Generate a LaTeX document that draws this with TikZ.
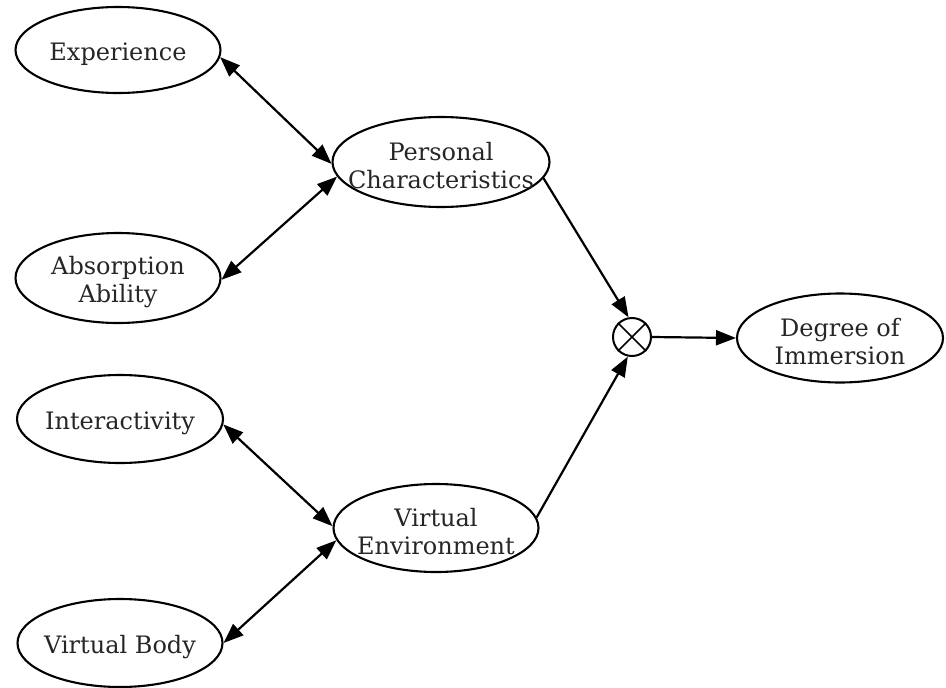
\documentclass[tikz,border=0pt]{standalone}
\usepackage{fontspec}
\setmainfont{DejaVu Serif}
\usetikzlibrary{shapes.geometric,arrows.meta}
\begin{document}
\begin{tikzpicture}[x=1pt,y=-1pt,
  oval/.style={draw, line width=2.1pt, ellipse, inner sep=0pt},
  txt/.style={align=center, font=\fontsize{24}{28}\selectfont, text=black!85, inner sep=0pt, yshift=-4pt},
  link/.style={line width=2.2pt, -{Triangle[length=20pt,width=15pt]}},
  dlink/.style={line width=2.2pt, {Triangle[length=20pt,width=15pt]}-{Triangle[length=20pt,width=15pt]}}]
\useasboundingbox (0,0) rectangle (946,688);
\node[oval, minimum width=205pt, minimum height=86pt, label={[txt]center:Experience}] (exp) at (118,50) {};
\node[oval, minimum width=205pt, minimum height=90pt, label={[txt]center:Absorption\\Ability}] (abs) at (118,278) {};
\node[oval, minimum width=206pt, minimum height=88pt, label={[txt]center:Interactivity}] (int) at (120,419) {};
\node[oval, minimum width=205pt, minimum height=88pt, label={[txt]center:Virtual Body}] (vb) at (120,643) {};
\node[oval, minimum width=217pt, minimum height=90pt, label={[txt]center:Personal\\Characteristics}] (pc) at (441,162) {};
\node[oval, minimum width=205pt, minimum height=88pt, label={[txt]center:Virtual\\Environment}] (ve) at (436,528) {};
\node[oval, minimum width=206pt, minimum height=89pt, label={[txt]center:Degree of\\Immersion}] (deg) at (840,338) {};
\node[draw, circle, line width=2pt, minimum size=38pt, inner sep=0pt] (cx) at (632,337) {};
\draw[line width=1.7pt] (cx.45) -- (cx.225) (cx.135) -- (cx.315);
\draw[dlink] (exp.-4) -- (pc.181);
\draw[dlink] (abs.-1) -- (pc.188);
\draw[dlink] (int.-3) -- (ve.179);
\draw[dlink] (vb.0) -- (ve.187);
\draw[link] (pc.-9) -- (cx.100);
\draw[link] (ve.6) -- (cx.258);
\draw[link] (cx.east) -- (deg.west);
\end{tikzpicture}
\end{document}
